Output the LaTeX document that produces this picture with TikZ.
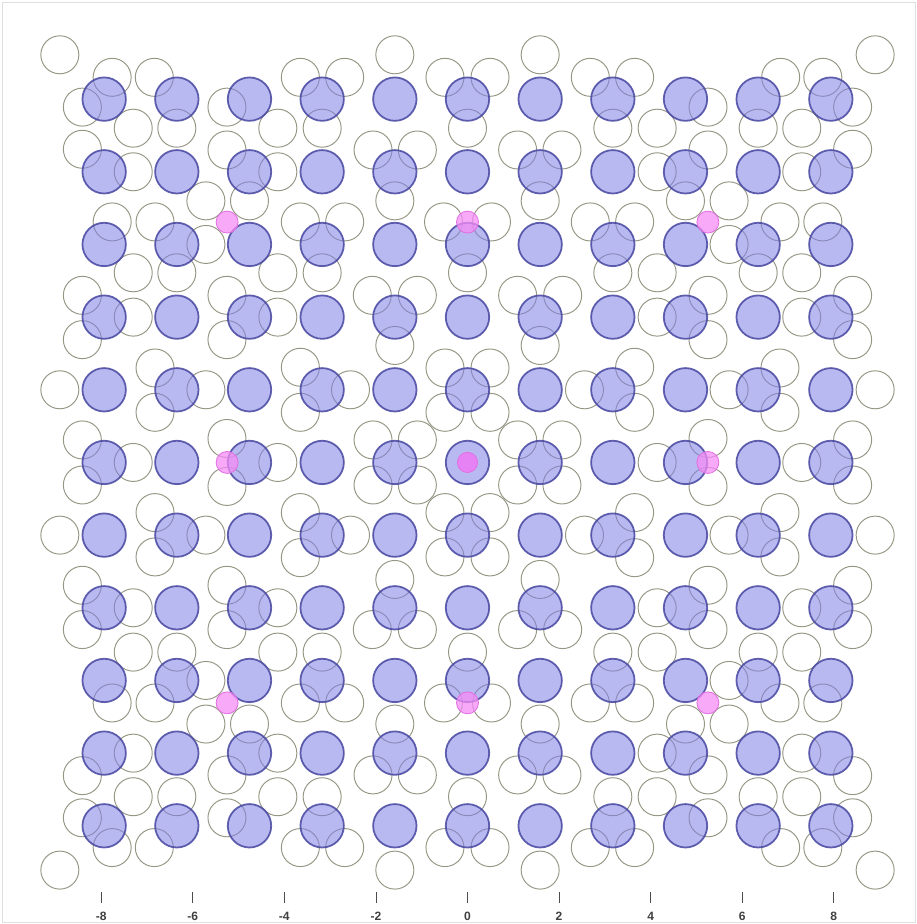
\documentclass[tikz,border=0pt]{standalone}
\usepackage{fontspec}
\setmainfont{Liberation Sans}
\definecolor{ringgray}{RGB}{150,150,132}
\definecolor{siteblue}{RGB}{128,128,230}
\definecolor{siteedge}{RGB}{70,70,160}
\definecolor{pinkfill}{RGB}{245,140,245}
\definecolor{pinkedge}{RGB}{225,110,225}
\tikzset{
	open site/.style = {draw = ringgray, line width = 0.6pt},
	blue site/.style = {draw = siteedge, draw opacity = 0.85, line width = 1.1pt, fill = siteblue, fill opacity = 0.55},
	pink site/.style = {draw = pinkedge, line width = 0.5pt, fill = pinkfill, fill opacity = 0.75}
}
\begin{document}
\begin{tikzpicture}
	\def\a{1.587}
	\useasboundingbox (-10.21,-10.08) rectangle (9.81,10.10);
	\draw [gray!25] (-10.17,-10.04) rectangle (9.77,10.06);
	% rings of the second layer: one octant, then its mirror images
	\foreach \p/\q in {0.31/0.69, 0.31/1.30, 1.0/1.61, 0.69/2.30, 1.31/2.30, 2.0/2.61,
		0.33/3.31, 1.0/3.6, 1.69/3.31, 2.30/3.31, 3.0/3.6, 0.69/4.30, 1.30/4.30,
		2.0/4.60, 2.61/4.60, 2.61/4.0, 3.31/4.30, 3.31/4.89, 4.0/4.60, 0.31/5.30,
		1.0/5.61, 1.69/5.30, 2.30/5.30, 4.31/5.30, 4.89/5.30} {
		\foreach \s/\t in {1/1, 1/-1, -1/1, -1/-1} {
			\draw [open site] (\s*\p*\a,\t*\q*\a) circle (0.415);
			\draw [open site] (\s*\q*\a,\t*\p*\a) circle (0.415);
		}
	}
	\foreach \d in {2.61, 4.60} {
		\foreach \s in {1,-1} {
			\draw [open site] (0,\s*\d*\a) circle (0.415);
			\draw [open site] (\s*\d*\a,0) circle (0.415);
		}
	}
	\foreach \d in {2.61, 3.6, 4.6, 5.61} {
		\foreach \s/\t in {1/1, 1/-1, -1/1, -1/-1}
			\draw [open site] (\s*\d*\a,\t*\d*\a) circle (0.415);
	}
	% square lattice
	\foreach \i in {-5,...,5} {
		\foreach \j in {-5,...,5}
			\draw [blue site] (\i*\a,\j*\a) circle (0.474);
	}
	% coincidence points
	\foreach \s/\t in {1/0, -1/0, 0/1, 0/-1, 1/1, 1/-1, -1/1, -1/-1}
		\draw [pink site] (\s*5.25,\t*5.25) circle (0.24);
	\draw [pink site, fill = pinkfill!80!magenta] (0,0) circle (0.22);
	% axis ticks
	\foreach \x in {-8,-6,...,8} {
		\draw [black!70] (\x,-9.38) -- (\x,-9.62);
		\node (tick\x) [font = \fontsize{7.5}{9}\selectfont\bfseries, text = black!75] at (\x,-9.92) {\x};
	}
\end{tikzpicture}
\end{document}
